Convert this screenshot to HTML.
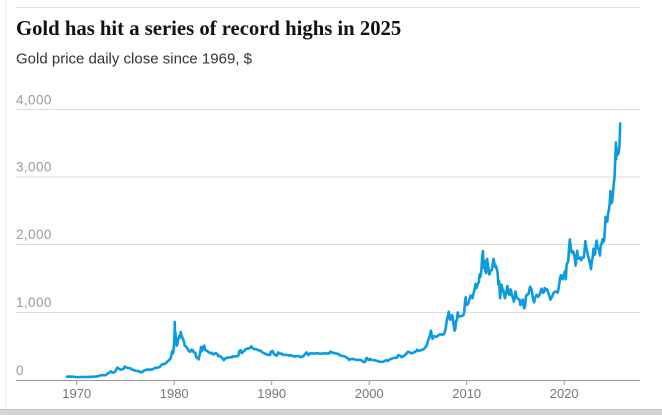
<!DOCTYPE html>
<html>
<head>
<meta charset="utf-8">
<style>
  html,body{margin:0;padding:0;background:#fff;}
  body{width:662px;height:415px;position:relative;overflow:hidden;}
  svg{position:absolute;left:0;top:0;}
</style>
</head>
<body>
<svg width="662" height="415" viewBox="0 0 662 415" xmlns="http://www.w3.org/2000/svg">
  <!-- frame bits -->
  <rect x="5" y="0" width="1" height="410" fill="#ececec"/>
  <rect x="16" y="7" width="624" height="1" fill="#e2e2e2"/>
  <rect x="0" y="409" width="662" height="6" fill="#d5d5d5"/>
  <rect x="0" y="409" width="662" height="1" fill="#c4c4c4"/>

  <!-- title -->
  <text x="16" y="35" font-family="'Liberation Serif', serif" font-weight="bold" font-size="20.7" fill="#121212">Gold has hit a series of record highs in 2025</text>
  <text x="16" y="63.3" font-family="'Liberation Sans', sans-serif" font-size="15" fill="#333">Gold price daily close since 1969, $</text>

  <!-- gridlines -->
  <g fill="#dcdcdc">
    <rect x="16" y="109" width="624" height="1"/>
    <rect x="16" y="176.5" width="624" height="1"/>
    <rect x="16" y="244" width="624" height="1"/>
    <rect x="16" y="312" width="624" height="1"/>
  </g>
  <rect x="16" y="380" width="624" height="1" fill="#9a9a9a"/>

  <!-- y labels -->
  <g font-family="'Liberation Sans', sans-serif" font-size="13.5" fill="#999" letter-spacing="0.4">
    <text x="16" y="104.5">4,000</text>
    <text x="16" y="171.5">3,000</text>
    <text x="16" y="239">2,000</text>
    <text x="16" y="307">1,000</text>
    <text x="16" y="375">0</text>
  </g>

  <!-- ticks -->
  <g fill="#9a9a9a">
    <rect x="76.2" y="380" width="1" height="5"/>
    <rect x="173.7" y="380" width="1" height="5"/>
    <rect x="271.2" y="380" width="1" height="5"/>
    <rect x="368.7" y="380" width="1" height="5"/>
    <rect x="466.2" y="380" width="1" height="5"/>
    <rect x="563.7" y="380" width="1" height="5"/>
  </g>
  <g font-family="'Liberation Sans', sans-serif" font-size="13" fill="#777" text-anchor="middle">
    <text x="76.7" y="398">1970</text>
    <text x="174.2" y="398">1980</text>
    <text x="271.7" y="398">1990</text>
    <text x="369.2" y="398">2000</text>
    <text x="466.7" y="398">2010</text>
    <text x="564.2" y="398">2020</text>
  </g>

  <!-- series -->
  <g transform="matrix(0.8125 0 0 -0.06775 66.95 379.5)">
    <path fill="none" stroke="#0a9be0" stroke-width="2.6" stroke-linejoin="round" stroke-linecap="round" vector-effect="non-scaling-stroke"
    d="M0 42 L3 43 L6 41 L9 39 L11 35 L14 35 L18 35.5 L23 37 L26 38 L30 40 L35 43 L38 47 L42 65 L45 63 L47 64 L48 65 L50 90 L52 100 L54 120 L55 110 L57 100 L59 112 L60 130 L62 175 L63 165 L66 145 L68 150 L70 160 L71 190 L72 185 L74 175 L75 170 L78 165 L81 140 L83 140 L84 130 L88 125 L91 104 L93 115 L95 134 L96 135 L99 148 L102 143 L105 150 L107 160 L108 170 L112 175 L114 185 L116 210 L118 230 L119 225 L120 227 L122 245 L125 280 L127 300 L128 330 L129 390 L129.5 420 L130 380 L131 410 L131.5 480 L132 560 L132.5 700 L132.7 850 L133 660 L133.5 700 L134 560 L135 500 L136 520 L137 600 L138 640 L139 620 L140 700 L141 650 L142 620 L143 590 L144 560 L145 500 L147 480 L149 440 L150 420 L152 410 L153 440 L155 430 L156 400 L158 395 L159 330 L161 315 L162 297 L163 350 L164 400 L165 480 L166 420 L167 450 L168 490 L169 500 L170 440 L171 430 L173 420 L174 405 L176 390 L178 395 L179 380 L180 370 L183 390 L185 375 L186 345 L188 350 L189 340 L191 320 L192 300 L193 285 L194 300 L196 320 L198 320 L200 330 L203 325 L204 345 L206 340 L208 340 L211 350 L212 420 L214 430 L215 390 L216 400 L218 420 L220 450 L222 455 L224 460 L226 470 L227 490 L228 470 L230 450 L232 450 L234 440 L236 430 L239 420 L240 405 L242 390 L244 380 L247 365 L250 360 L251 410 L252 410 L253 420 L255 370 L258 350 L260 400 L262 380 L263 380 L264 385 L266 360 L268 365 L270 365 L273 355 L275 360 L276 355 L280 340 L283 345 L285 345 L287 335 L288 330 L291 345 L294 390 L295 400 L297 360 L299 385 L300 385 L303 385 L306 385 L309 390 L311 380 L312 380 L315 385 L318 385 L321 385 L323 387 L324 410 L326 400 L330 385 L333 380 L335 370 L336 355 L340 345 L342 340 L344 325 L346 310 L347 290 L348 300 L350 300 L352 305 L354 295 L356 290 L359 290 L360 288 L362 285 L365 258 L367 260 L368 300 L369 320 L370 300 L371 290 L372 285 L373 305 L375 290 L378 285 L380 280 L383 270 L384 265 L386 262 L388 260 L390 265 L392 280 L393 285 L395 275 L396 285 L398 300 L400 310 L403 320 L406 320 L407 345 L408 360 L410 350 L412 330 L414 345 L416 360 L418 385 L419 400 L420 410 L422 400 L424 385 L427 400 L430 420 L431 440 L432 420 L435 430 L438 440 L441 470 L443 510 L444 560 L446 620 L448 720 L449 650 L450 600 L452 640 L455 630 L456 640 L459 670 L462 660 L464 670 L466 740 L467 830 L468 900 L469 940 L470 1000 L471 900 L472 880 L474 950 L475 900 L476 800 L477 720 L478 750 L479 870 L480 880 L481 990 L482 930 L484 930 L486 940 L488 950 L489 1000 L490 1150 L490.8 1215 L491 1100 L492 1100 L494 1120 L495 1170 L497 1240 L499 1200 L500 1250 L502 1350 L503 1410 L504 1350 L506 1420 L507 1440 L508 1550 L509 1520 L510 1600 L511 1800 L512 1895 L512.5 1650 L513 1700 L514 1750 L515 1600 L516 1570 L517 1780 L518 1700 L520 1550 L521 1600 L523 1620 L524 1700 L525 1780 L526 1720 L527 1660 L528 1680 L529 1630 L530 1580 L531 1400 L532 1450 L533 1200 L534 1300 L535 1400 L536 1330 L537 1320 L538 1250 L539 1200 L540 1250 L541 1300 L542 1380 L543 1300 L544 1260 L545 1250 L546 1330 L547 1290 L548 1230 L549 1200 L550 1150 L551 1200 L552 1300 L553 1230 L555 1190 L557 1180 L558 1100 L559 1120 L561 1180 L562 1080 L563 1050 L564 1100 L565 1230 L566 1250 L568 1260 L570 1370 L572 1320 L574 1170 L575 1140 L576 1200 L578 1250 L580 1220 L582 1260 L584 1340 L586 1280 L587 1290 L588 1350 L590 1320 L591 1330 L593 1260 L595 1180 L597 1220 L599 1280 L600 1290 L602 1300 L604 1280 L605 1340 L606 1420 L607 1500 L608 1540 L610 1480 L611 1510 L612 1570 L613 1600 L614 1480 L615 1700 L616 1720 L617 1750 L618 1950 L619 2067 L620 1950 L621 1880 L622 1870 L623 1890 L624 1850 L625 1800 L626 1680 L627 1780 L628 1900 L629 1790 L631 1780 L632 1800 L633 1760 L634 1800 L635 1800 L636 1800 L637 1900 L638 2040 L639 1950 L640 1900 L641 1850 L642 1800 L643 1750 L644 1700 L645 1630 L646 1750 L647 1800 L648 1930 L649 1840 L650 1850 L651 1990 L652 2050 L653 1950 L654 1930 L655 1910 L656 1830 L657 1990 L658 2000 L659 2070 L660 2030 L661 2040 L662 2200 L663 2400 L664 2340 L665 2330 L666 2450 L667 2500 L668 2600 L669 2780 L670 2600 L671 2620 L672 2750 L673 2880 L674 3000 L675 3300 L675.7 3500 L676 3250 L676.6 3420 L677 3350 L678 3320 L679 3350 L680 3450 L680.3 3550 L680.6 3650 L680.9 3780"/>
  </g>
</svg>
</body>
</html>
